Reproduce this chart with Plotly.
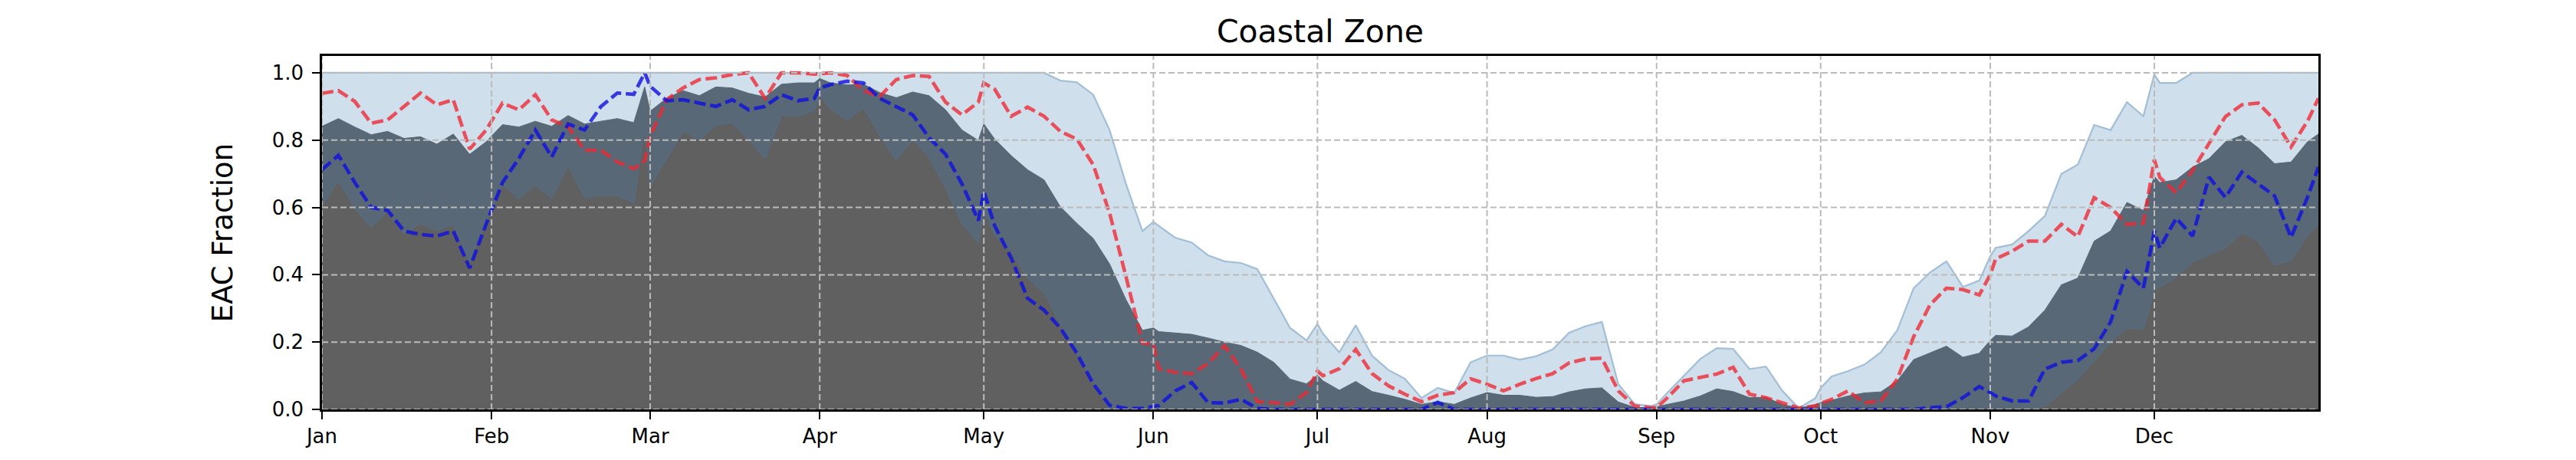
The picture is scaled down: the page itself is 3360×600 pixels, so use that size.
import pandas as pd
import plotly.graph_objects as go

year_start = "2016-01-01"

day_offsets = [0, 3, 6, 9, 12, 15, 18, 21, 24, 27, 30, 33, 36, 39, 42, 45, 48, 51, 54, 57,
               59, 60, 63, 66, 69, 72, 75, 78, 81, 84, 87, 90, 91, 93, 96, 99, 102, 105, 108, 111,
               114, 117, 120, 121, 123, 126, 129, 132, 135, 138, 141, 144, 147, 150, 152, 153, 156, 159, 162, 165,
               168, 171, 174, 177, 180, 182, 183, 186, 189, 192, 195, 198, 201, 204, 207, 210, 213, 216, 219, 222,
               225, 228, 231, 234, 237, 240, 243, 244, 246, 249, 252, 255, 258, 261, 264, 267, 270, 273, 274, 276,
               279, 282, 285, 288, 291, 294, 297, 300, 303, 305, 306, 309, 312, 315, 318, 321, 324, 327, 330, 333,
               335, 336, 339, 342, 345, 348, 351, 354, 357, 360, 363, 365]

max_frac = [1.0] * 48 + [
    0.977, 0.972, 0.935, 0.83, 0.67, 0.53, 0.557, 0.545, 0.51, 0.496, 0.458, 0.44,
    0.435, 0.417, 0.33, 0.242, 0.205, 0.254, 0.225, 0.17, 0.25, 0.159, 0.117, 0.091, 0.034, 0.064, 0.049, 0.14,
    0.16, 0.16, 0.148, 0.158, 0.178, 0.228, 0.247, 0.26, 0.075, 0.016, 0.01, 0.015, 0.05, 0.10, 0.15, 0.182,
    0.18, 0.12, 0.127, 0.055, 0.004, 0.033, 0.064, 0.098, 0.114, 0.133, 0.17, 0.235, 0.36, 0.407, 0.44, 0.364,
    0.383, 0.455, 0.48, 0.49, 0.53, 0.575, 0.70, 0.727, 0.845, 0.83, 0.913, 0.871, 0.996, 0.97, 0.97, 1.0,
    1.0, 1.0, 1.0, 1.0, 1.0, 1.0, 1.0, 1.0]

upper_frac = [
    0.841, 0.864, 0.839, 0.816, 0.826, 0.805, 0.81, 0.788, 0.818, 0.758, 0.795, 0.846, 0.839, 0.856, 0.841, 0.873,
    0.848, 0.856, 0.864, 0.852, 0.958, 0.886, 0.924, 0.947, 0.932, 0.958, 0.955, 0.939, 0.928, 0.966, 0.97, 0.97,
    0.983, 0.97, 0.964, 0.966, 0.941, 0.926, 0.943, 0.932, 0.89, 0.83, 0.799, 0.848, 0.803, 0.754, 0.712, 0.682,
    0.602, 0.553, 0.508, 0.432, 0.326, 0.235, 0.242, 0.231, 0.227, 0.223, 0.212, 0.20, 0.19, 0.17, 0.14, 0.09,
    0.076, 0.102, 0.085, 0.057, 0.083, 0.053, 0.042, 0.03, 0.015, 0.023, 0.015, 0.034, 0.05, 0.042, 0.042, 0.036,
    0.038, 0.052, 0.061, 0.064, 0.022, 0.006, 0.004, 0.008, 0.015, 0.025, 0.04, 0.061, 0.053, 0.035, 0.036, 0.015,
    0.004, 0.014, 0.02, 0.027, 0.04, 0.049, 0.052, 0.085, 0.148, 0.168, 0.188, 0.155, 0.167, 0.205, 0.22, 0.218,
    0.245, 0.295, 0.37, 0.39, 0.50, 0.53, 0.615, 0.591, 0.693, 0.674, 0.682, 0.72, 0.745, 0.795, 0.814, 0.777,
    0.73, 0.735, 0.795, 0.818]

lower_frac = [
    0.606, 0.682, 0.598, 0.542, 0.587, 0.523, 0.553, 0.532, 0.55, 0.44, 0.56, 0.667, 0.627, 0.667, 0.629, 0.727,
    0.63, 0.636, 0.636, 0.614, 0.848, 0.663, 0.746, 0.826, 0.803, 0.845, 0.852, 0.803, 0.746, 0.875, 0.871, 0.89,
    0.936, 0.894, 0.86, 0.898, 0.814, 0.742, 0.803, 0.75, 0.659, 0.553, 0.496, 0.591, 0.519, 0.47, 0.39, 0.348,
    0.254, 0.167, 0.083] + [0.0] * 62 + [
    0.01, 0.05, 0.091, 0.144, 0.20, 0.242, 0.239, 0.356, 0.364, 0.394, 0.439, 0.46, 0.48, 0.527, 0.50,
    0.43, 0.443, 0.52, 0.549]

red_line = [
    0.939, 0.947, 0.915, 0.85, 0.86, 0.90, 0.94, 0.905, 0.92, 0.773, 0.83, 0.91, 0.89, 0.935, 0.86, 0.84,
    0.77, 0.77, 0.735, 0.715, 0.739, 0.811, 0.92, 0.955, 0.98, 0.985, 0.995, 1.0, 0.924, 1.0, 1.0, 0.996,
    0.998, 1.0, 0.992, 0.947, 0.93, 0.98, 0.992, 0.989, 0.913, 0.875, 0.913, 0.97, 0.951, 0.871, 0.898, 0.871,
    0.826, 0.803, 0.727, 0.583, 0.394, 0.197, 0.193, 0.121, 0.11, 0.106, 0.136, 0.189, 0.12, 0.023, 0.02, 0.015,
    0.05, 0.114, 0.10, 0.121, 0.178, 0.106, 0.07, 0.045, 0.023, 0.042, 0.05, 0.091, 0.075, 0.055, 0.075, 0.092,
    0.106, 0.138, 0.15, 0.152, 0.055, 0.01, 0.005, 0.005, 0.035, 0.085, 0.095, 0.105, 0.125, 0.045, 0.035, 0.02,
    0.004, 0.01, 0.018, 0.03, 0.055, 0.02, 0.025, 0.09, 0.216, 0.311, 0.36, 0.356, 0.34, 0.40, 0.447, 0.47,
    0.50, 0.50, 0.55, 0.513, 0.629, 0.60, 0.55, 0.553, 0.742, 0.689, 0.644, 0.71, 0.79, 0.87, 0.905, 0.91,
    0.86, 0.78, 0.856, 0.924]

blue_line = [
    0.712, 0.755, 0.674, 0.60, 0.591, 0.53, 0.52, 0.515, 0.53, 0.42, 0.55, 0.674, 0.746, 0.83, 0.75, 0.848,
    0.83, 0.90, 0.94, 0.936, 1.0, 0.96, 0.917, 0.92, 0.91, 0.90, 0.92, 0.89, 0.90, 0.935, 0.917, 0.924,
    0.955, 0.965, 0.975, 0.97, 0.924, 0.90, 0.875, 0.807, 0.758, 0.67, 0.561, 0.648, 0.545, 0.45, 0.33, 0.295,
    0.242, 0.167, 0.076, 0.012, 0.003, 0.003, 0.008, 0.012, 0.055, 0.08, 0.02, 0.019, 0.03, 0.003, 0.0, 0.0,
    0.0, 0.0, 0.0, 0.0, 0.0, 0.0, 0.0, 0.0, 0.0, 0.021, 0.0, 0.0, 0.0, 0.0, 0.0, 0.0,
    0.0, 0.0, 0.0, 0.0, 0.0, 0.0, 0.0, 0.0, 0.0, 0.0, 0.0, 0.0, 0.0, 0.0, 0.0, 0.0,
    0.0, 0.0, 0.0, 0.0, 0.0, 0.0, 0.0, 0.0, 0.0, 0.005, 0.008, 0.035, 0.068, 0.05, 0.04, 0.025,
    0.025, 0.12, 0.14, 0.145, 0.18, 0.26, 0.41, 0.36, 0.53, 0.48, 0.568, 0.515, 0.69, 0.63, 0.705, 0.67,
    0.634, 0.511, 0.63, 0.72]

month_ticks = ["2016-%02d-01" % m for m in range(1, 13)]
month_labels = ["Jan", "Feb", "Mar", "Apr", "May", "Jun", "Jul", "Aug", "Sep", "Oct", "Nov", "Dec"]
y_ticks = [0.0, 0.2, 0.4, 0.6, 0.8, 1.0]
y_tick_labels = ["0.0", "0.2", "0.4", "0.6", "0.8", "1.0"]

for s in (max_frac, upper_frac, lower_frac, red_line, blue_line):
    assert len(s) == len(day_offsets), len(s)

dates = pd.Timestamp(year_start) + pd.to_timedelta(day_offsets, unit="D")

FONT = "DejaVu Sans"
fig = go.Figure()
fig.add_trace(go.Scatter(x=dates, y=max_frac, mode="lines", fill="tozeroy",
                         fillcolor="#cfdfeb", line=dict(color="rgba(150,182,210,0.85)", width=2.2),
                         showlegend=False, hoverinfo="skip"))
fig.add_trace(go.Scatter(x=dates, y=upper_frac, mode="lines", fill="tozeroy",
                         fillcolor="#586876", line=dict(color="#586876", width=1),
                         showlegend=False, hoverinfo="skip"))
fig.add_trace(go.Scatter(x=dates, y=lower_frac, mode="lines", fill="tozeroy",
                         fillcolor="#606060", line=dict(color="#576b7e", width=1.8),
                         showlegend=False, hoverinfo="skip"))
fig.add_trace(go.Scatter(x=dates, y=red_line, mode="lines",
                         line=dict(color="rgba(238,38,50,0.78)", width=4.6, dash="15px,6px"),
                         showlegend=False))
fig.add_trace(go.Scatter(x=dates, y=blue_line, mode="lines",
                         line=dict(color="rgba(15,15,225,0.8)", width=4.6, dash="15px,6px"),
                         showlegend=False))

grid = dict(color="#bbbbbb", width=2, dash="8px,4px")
shapes = []
for t in month_ticks:
    shapes.append(dict(type="line", xref="x", yref="paper", x0=t, x1=t, y0=0, y1=1,
                       line=grid, layer="above"))
for v in y_ticks:
    shapes.append(dict(type="line", xref="paper", yref="y", x0=0, x1=1, y0=v, y1=v,
                       line=grid, layer="above"))

# the page body adds an 8px offset; margins compensate so the plot sits where the reference has it
fig.update_layout(
    width=3360, height=600,
    margin=dict(l=412, r=344, t=65, b=74, autoexpand=False),
    paper_bgcolor="white", plot_bgcolor="white",
    font=dict(family=FONT, color="black", size=26),
    title=dict(text="Coastal Zone", x=0.5, xref="paper", xanchor="center",
               y=1 - 33 / 600, yref="container", yanchor="middle",
               font=dict(family=FONT, size=41, color="black")),
    shapes=shapes,
)
fig.update_xaxes(
    type="date", range=["2016-01-01", "2016-12-31"],
    tickmode="array", tickvals=month_ticks, ticktext=month_labels,
    showgrid=False, zeroline=False,
    showline=True, linecolor="black", linewidth=2.5, mirror=True,
    ticks="outside", ticklen=10, tickwidth=2.2, tickcolor="black",
    tickfont=dict(family=FONT, size=26, color="black"),
    ticklabelstandoff=0, layer="above traces", automargin=False,
)
fig.update_yaxes(
    range=[0, 1.05],
    tickmode="array", tickvals=y_ticks, ticktext=y_tick_labels,
    showgrid=False, zeroline=False,
    showline=True, linecolor="black", linewidth=2.5, mirror=True,
    ticks="outside", ticklen=10, tickwidth=2.2, tickcolor="black",
    tickfont=dict(family=FONT, size=26, color="black"),
    ticklabelstandoff=6, layer="above traces", automargin=False,
    title=dict(text="EAC Fraction", font=dict(family=FONT, size=37, color="black"), standoff=40),
)

fig.write_html("out.html")
